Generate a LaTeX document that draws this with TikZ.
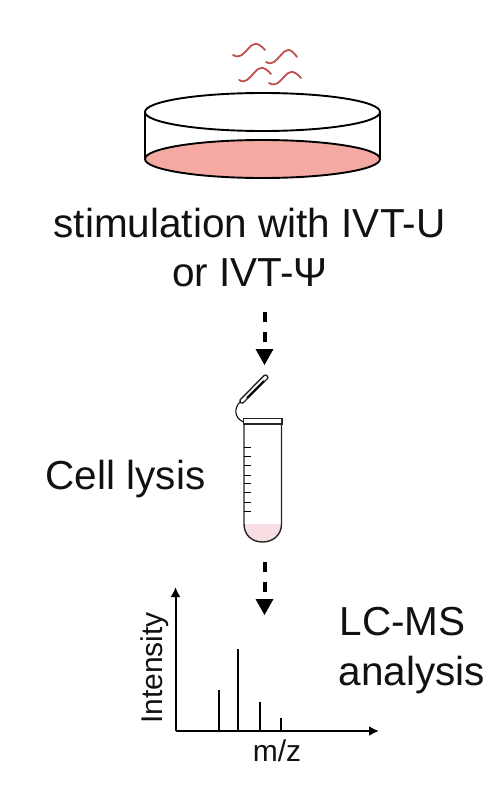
\documentclass[tikz,border=0pt]{standalone}
\usepackage{fontspec}
\setmainfont{Liberation Sans}
\usetikzlibrary{arrows.meta}
\definecolor{waveC}{HTML}{C0504D}
\definecolor{mediumC}{HTML}{F4A9A3}
\definecolor{lysateC}{HTML}{F8DDE3}
\definecolor{inkC}{HTML}{111111}
\tikzset{
  lbl/.style={font=\fontsize{40.5}{40.5}\selectfont,text=inkC,inner sep=0pt,anchor=base},
  lblsmall/.style={font=\fontsize{30}{30}\selectfont,text=inkC,inner sep=0pt,anchor=base},
  wave/.style={draw=waveC,line width=1.8pt,line cap=round},
  dish/.style={draw=black,line width=1.9pt},
  flow/.style={line width=4pt,draw=black,dash pattern=on 10pt off 10pt,line cap=butt},
  headfill/.style={fill=black,draw=none},
  axisline/.style={draw=black,line width=2pt,-{Latex[length=10pt,width=10pt]}},
  peak/.style={draw=black,line width=2pt},
  tube/.style={draw=black!85,line width=1.4pt},
}
\begin{document}
\begin{tikzpicture}[x=1pt,y=-1pt]
\useasboundingbox (0,0) rectangle (492,789);
% RNA waves
\draw[wave] (233,55) .. controls (240,59) and (243,54) .. (248,49) .. controls (253,43) and (257,41) .. (265,50);
\draw[wave] (266,62) .. controls (273,66) and (276,60) .. (281,55) .. controls (286,49) and (290,47) .. (297,57);
\draw[wave] (239,80) .. controls (246,84) and (249,78) .. (254,73) .. controls (259,67) and (263,65) .. (271,74);
\draw[wave] (269,83) .. controls (276,87) and (279,82) .. (284,77) .. controls (289,71) and (293,69) .. (301,78);
% dish
\path[fill=mediumC] (262.5,159) ellipse [x radius=117.5,y radius=19];
\draw[dish] (262.5,159) ellipse [x radius=117.5,y radius=19];
\draw[dish] (145,112) -- (145,159) (380,112) -- (380,159);
\draw[dish,fill=white] (262.5,112) ellipse [x radius=117.5,y radius=19];
% texts
\node[lbl] (t1) at (249.5,237) {stimulation with IVT-U};
\node[lbl] (t2) at (250,286) {or IVT-Ψ};
\node[lbl] (t3) at (125.5,489.5) {Cell lysis};
\node[lbl] (t4) at (402.5,635) {LC-MS};
\node[lbl] (t5) at (412,685) {analysis};
\node[lblsmall] (t6) at (277,761) {m/z};
\node[lblsmall,rotate=90] (t7) at (162,668) {Intensity};
% arrows
\coordinate (a1s) at (264.5,312);\coordinate (a1e) at (264.5,342);
\coordinate (a2s) at (264.5,562);\coordinate (a2e) at (264.5,592);
\draw[flow] (a1s) -- (a1e);
\fill[headfill] (255.5,349) -- (273.5,349) -- (264.5,365) -- cycle;
\draw[flow] (a2s) -- (a2e);
\fill[headfill] (255.5,599) -- (273.5,599) -- (264.5,615) -- cycle;
% tube
\path[fill=lysateC] (244,524) -- (281.5,524) .. controls (281.5,535) and (273,542) .. (262.5,542) .. controls (252,542) and (244,535) .. (244,524) -- cycle;
\draw[tube] (244,424) -- (244,524) .. controls (244,535) and (252,542) .. (262.5,542) .. controls (273,542) and (281.5,535) .. (281.5,524) -- (281.5,424);
\draw[tube,fill=white] (243.5,418.5) rectangle (282,424);
\foreach \yy in {447,456.5,465.5,475,483,492.5,502,511.5} \draw[draw=black,line width=1pt] (244,\yy) -- (251,\yy);
% cap
\draw[tube,fill=white,line join=round] (240,400) -- (264,375.5) .. controls (266,374) and (269,377) .. (267.5,378.5) -- (243,403) .. controls (241,404) and (239,402) .. (240,400) -- cycle;
\draw[draw=black,line width=1.8pt] (247,398) -- (264,381);
\draw[draw=black,line width=1pt] (240,402) .. controls (234,408) and (234,418) .. (243.5,422);
% plot
\coordinate (o) at (175.5,731);
\coordinate (ytop) at (175.5,587);
\coordinate (xend) at (379,731);
\draw[axisline] (o) -- (ytop);
\draw[axisline] (o) -- (xend);
\draw[peak] (218.5,731) -- (218.5,690);
\draw[peak] (237.5,731) -- (237.5,649);
\draw[peak] (260,731) -- (260,702);
\draw[peak] (281,731) -- (281,718);
\end{tikzpicture}
\end{document}
